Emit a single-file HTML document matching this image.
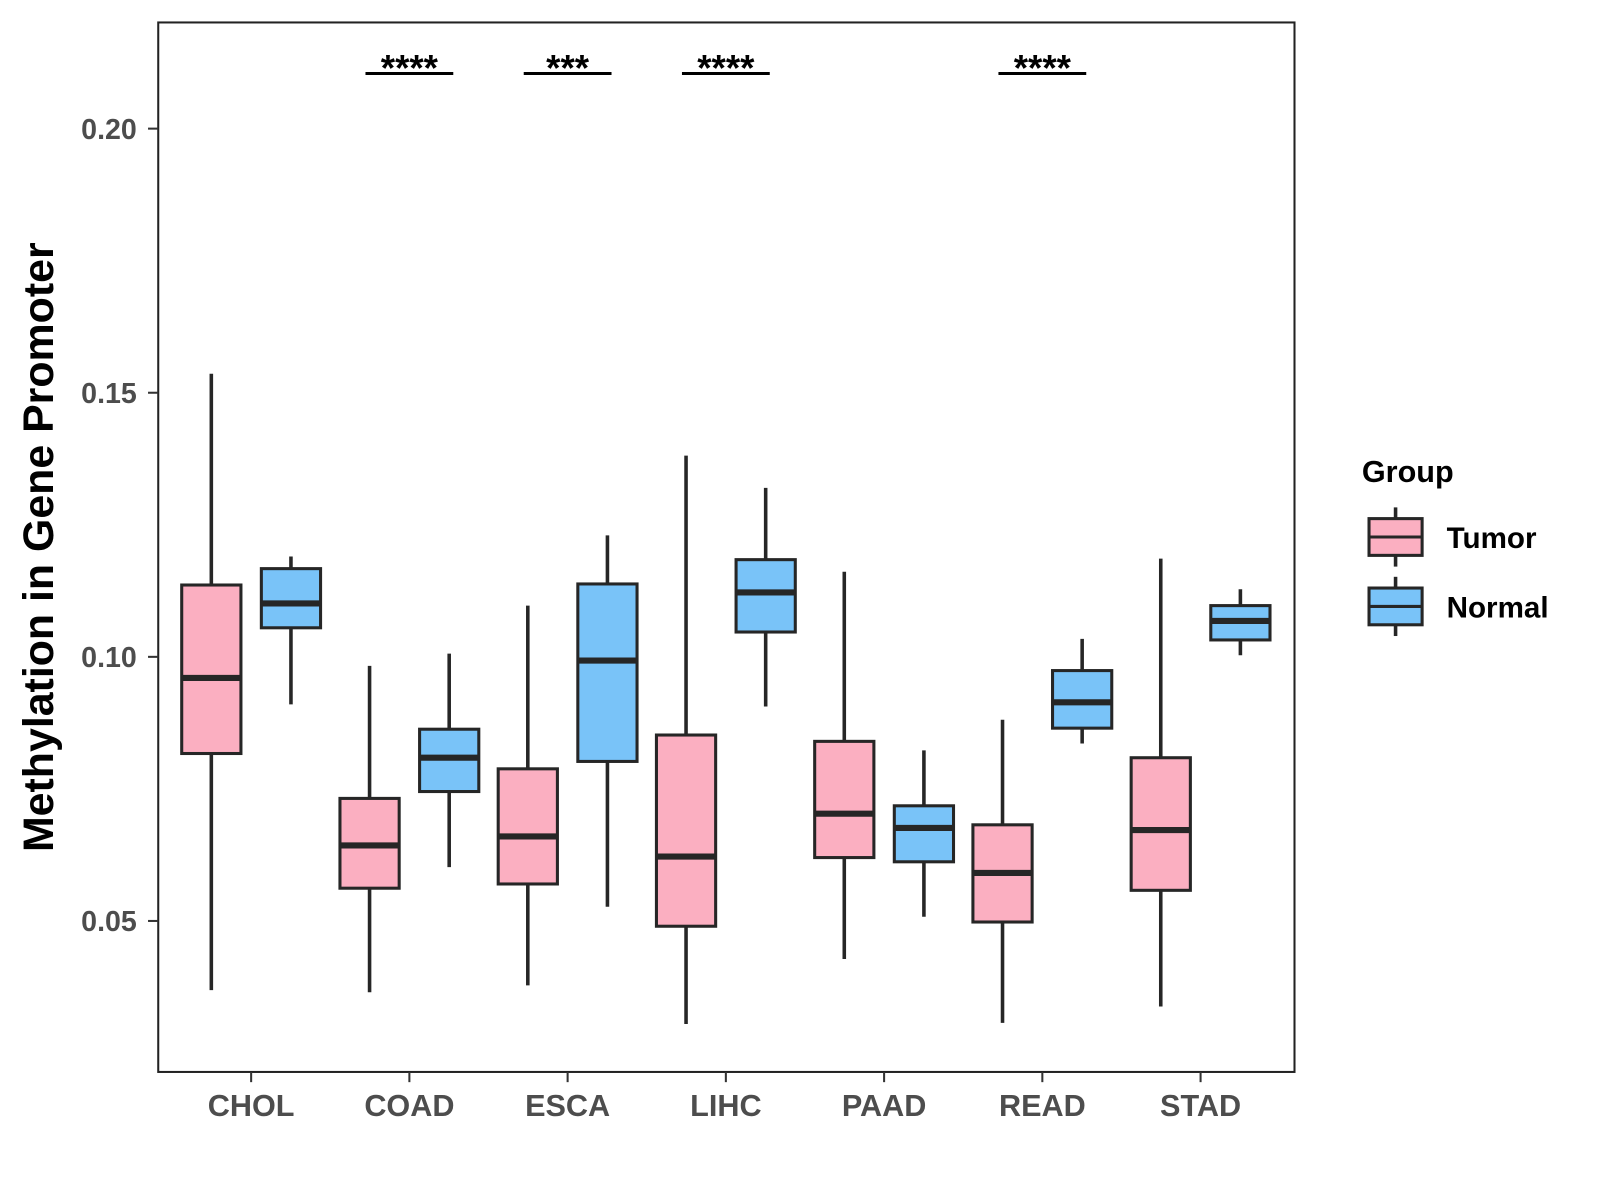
<!DOCTYPE html>
<html><head><meta charset="utf-8"><style>
html,body{margin:0;padding:0;background:#fff;}
svg{display:block;font-family:"Liberation Sans",Arial,sans-serif;}
</style></head><body>
<svg id="chart" width="1600" height="1200" viewBox="0 0 1600 1200">
<g transform="scale(1.0209)">
<rect x="155" y="22" width="1113" height="1028" fill="#fff" stroke="#222" stroke-width="2"/>
<g id="boxes"></g>
<g id="axes"></g>
<text x="0" y="0" transform="translate(52,536) rotate(-90)" text-anchor="middle" font-size="42" font-weight="bold" fill="#000">Methylation in Gene Promoter</text>
<g>
<text x="1334" y="472" font-size="30" font-weight="bold">Group</text>
<g>
<line x1="1367" y1="497" x2="1367" y2="555" stroke="#262626" stroke-width="3.5"/>
<rect x="1341" y="508" width="52" height="36" fill="#FBAFC1" stroke="#262626" stroke-width="3"/>
<line x1="1341" y1="526" x2="1393" y2="526" stroke="#262626" stroke-width="3"/>
<text x="1417" y="537" font-size="29" font-weight="bold">Tumor</text></g>
<g>
<line x1="1367" y1="565" x2="1367" y2="623" stroke="#262626" stroke-width="3.5"/>
<rect x="1341" y="576" width="52" height="36" fill="#79C3F8" stroke="#262626" stroke-width="3"/>
<line x1="1341" y1="594" x2="1393" y2="594" stroke="#262626" stroke-width="3"/>
<text x="1417" y="605" font-size="29" font-weight="bold">Normal</text></g>
</g>
</g>
</svg>
<script>
const categories=["CHOL","COAD","ESCA","LIHC","PAAD","READ","STAD"];
const tumorMin=[0.0369,0.0365,0.0378,0.0305,0.0428,0.0307,0.0338];
const tumorQ1=[0.0817,0.0562,0.0570,0.0490,0.0620,0.0498,0.0558];
const tumorMed=[0.0960,0.0643,0.0660,0.0622,0.0703,0.0591,0.0672];
const tumorQ3=[0.1136,0.0732,0.0788,0.0852,0.0840,0.0682,0.0809];
const tumorMax=[0.1536,0.0983,0.1097,0.1381,0.1161,0.0881,0.1186];
const normalMin=[0.0910,0.0602,0.0527,0.0906,0.0508,0.0836,0.1003];
const normalQ1=[0.1055,0.0745,0.0802,0.1047,0.0612,0.0865,0.1032];
const normalMed=[0.1101,0.0809,0.0993,0.1122,0.0676,0.0914,0.1068];
const normalQ3=[0.1167,0.0863,0.1138,0.1184,0.0718,0.0974,0.1097];
const normalMax=[0.1190,0.1006,0.1230,0.1320,0.0823,0.1034,0.1128];
const sigLabels=["","****","***","****","","****",""];
const yTicks=[0.05,0.10,0.15,0.20];
const yTickLabels=["0.05","0.10","0.15","0.20"];

const NS="http://www.w3.org/2000/svg";
const yS=v=>126+(0.20-v)/0.05*258.7;
const xS=i=>246+i*155;
function mk(tag,at,parent){const e=document.createElementNS(NS,tag);for(const k in at)e.setAttribute(k,at[k]);parent.appendChild(e);return e;}
const boxes=document.getElementById('boxes'),axes=document.getElementById('axes');
function drawBox(cx,mn,q1,md,q3,mx,fill,name){
  const g=mk('g',{},boxes);
  
  
  mk('line',{x1:cx,x2:cx,y1:yS(mx),y2:yS(mn),stroke:'#262626','stroke-width':3.5},g);
  mk('rect',{x:cx-29,y:yS(q3),width:58,height:yS(q1)-yS(q3),fill:fill,stroke:'#262626','stroke-width':3},g);
  mk('line',{x1:cx-29,x2:cx+29,y1:yS(md),y2:yS(md),stroke:'#262626','stroke-width':6},g);
}
categories.forEach((c,i)=>{
  const x=xS(i);
  drawBox(x-39,tumorMin[i],tumorQ1[i],tumorMed[i],tumorQ3[i],tumorMax[i],'#FBAFC1','box-tumor-'+c.toLowerCase());
  drawBox(x+39,normalMin[i],normalQ1[i],normalMed[i],normalQ3[i],normalMax[i],'#79C3F8','box-normal-'+c.toLowerCase());
  const t=mk('line',{x1:x,x2:x,y1:1050,y2:1060,stroke:'#333','stroke-width':2},axes);
  
  
  const l=mk('text',{x:x,y:1093,'text-anchor':'middle','font-size':30,'font-weight':'bold',fill:'#4d4d4d'},axes);
  l.textContent=c;
  
  
  if(sigLabels[i]){
    const b=mk('line',{x1:x-43,x2:x+43,y1:72,y2:72,stroke:'#000','stroke-width':3},axes);
    
    
    const s=mk('text',{x:x,y:79,'text-anchor':'middle','font-size':36,'font-weight':'bold',fill:'#000'},axes);
    s.textContent=sigLabels[i];
    
    
  }
});
yTicks.forEach((v,i)=>{
  const y=yS(v);
  const t=mk('line',{x1:145,x2:155,y1:y,y2:y,stroke:'#333','stroke-width':2},axes);
  
  
  const l=mk('text',{x:134,y:y+10,'text-anchor':'end','font-size':28,'font-weight':'bold',fill:'#4d4d4d'},axes);
  l.textContent=yTickLabels[i];
  
  
});
</script>
</body></html>
